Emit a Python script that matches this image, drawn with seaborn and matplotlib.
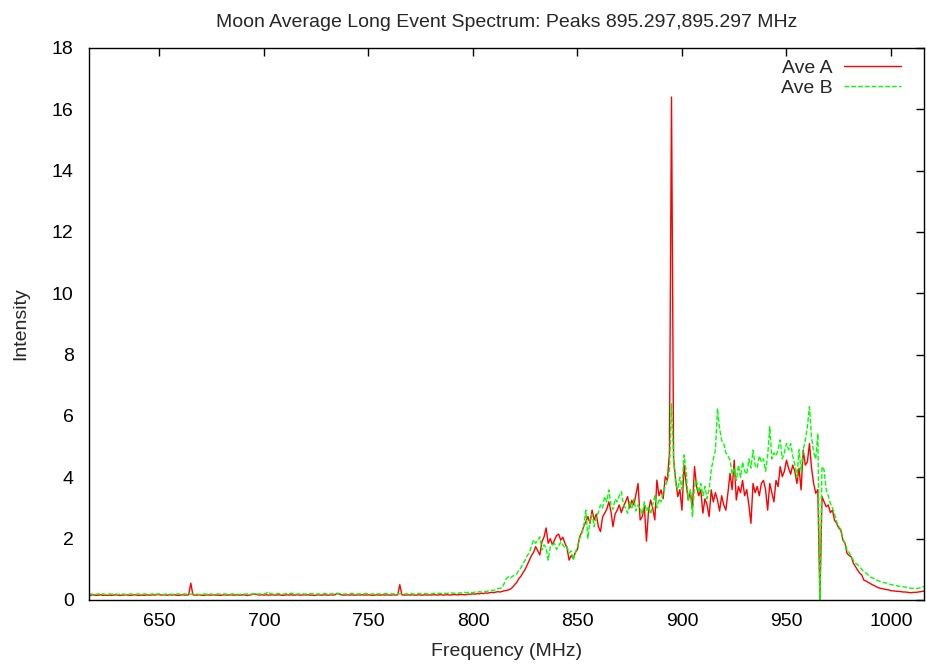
import numpy as np
import pandas as pd
import matplotlib
matplotlib.use("Agg")
import matplotlib.pyplot as plt
import seaborn as sns

# Frequency grid (MHz), 1 MHz spacing
freq = np.arange(616, 1017)

# --- Ave A (red), flat region 616..799 ---
ave_a_flat = [
    0.16, 0.15, 0.17, 0.16, 0.15, 0.16, 0.17, 0.15, 0.16, 0.15,
    0.16, 0.15, 0.16, 0.17, 0.16, 0.15, 0.16, 0.16, 0.17, 0.16,
    0.15, 0.16, 0.17, 0.16, 0.15, 0.16, 0.16, 0.15, 0.17, 0.16,
    0.16, 0.17, 0.16, 0.18, 0.17, 0.16, 0.17, 0.16, 0.16, 0.17,
    0.16, 0.17, 0.16, 0.15, 0.16, 0.17, 0.16, 0.16, 0.17, 0.55,
    0.17, 0.16, 0.16, 0.17, 0.16, 0.15, 0.16, 0.17, 0.16, 0.16,
    0.17, 0.16, 0.16, 0.15, 0.16, 0.17, 0.16, 0.16, 0.17, 0.16,
    0.16, 0.17, 0.16, 0.16, 0.17, 0.16, 0.15, 0.16, 0.17, 0.20,
    0.19, 0.17, 0.16, 0.17, 0.16, 0.17, 0.16, 0.16, 0.17, 0.16,
    0.16, 0.17, 0.16, 0.15, 0.16, 0.17, 0.16, 0.17, 0.16, 0.16,
    0.17, 0.16, 0.16, 0.17, 0.16, 0.17, 0.16, 0.16, 0.15, 0.16,
    0.17, 0.16, 0.16, 0.17, 0.16, 0.16, 0.17, 0.16, 0.17, 0.22,
    0.19, 0.17, 0.16, 0.16, 0.17, 0.16, 0.17, 0.16, 0.16, 0.17,
    0.16, 0.17, 0.16, 0.16, 0.17, 0.16, 0.15, 0.16, 0.17, 0.16,
    0.16, 0.17, 0.16, 0.17, 0.16, 0.16, 0.17, 0.16, 0.17, 0.50,
    0.17, 0.16, 0.16, 0.17, 0.16, 0.17, 0.16, 0.16, 0.17, 0.16,
    0.16, 0.17, 0.16, 0.17, 0.16, 0.17, 0.17, 0.16, 0.17, 0.17,
    0.16, 0.17, 0.17, 0.16, 0.17, 0.18, 0.17, 0.17, 0.18, 0.18,
    0.17, 0.18, 0.19, 0.19,
]

# --- Ave A (red), band 800..1016 ---
ave_a_band = [
    0.20, 0.19, 0.21, 0.20, 0.22, 0.21, 0.23, 0.22, 0.24, 0.25,
    0.24, 0.26, 0.27, 0.26, 0.28, 0.30, 0.31, 0.33, 0.36, 0.42,
    0.50, 0.58, 0.70, 0.78, 0.90, 1.00, 1.15, 1.30, 1.45, 1.55,
    1.74, 1.60, 1.47, 1.90, 2.05, 2.35, 1.85, 2.00, 1.80, 1.95,
    2.10, 2.15, 1.95, 2.05, 1.85, 1.70, 1.30, 1.45, 1.35, 1.55,
    1.65, 2.05, 2.20, 2.40, 2.55, 2.72, 2.50, 2.93, 2.61, 2.80,
    2.40, 2.23, 2.70, 2.83, 2.95, 3.20, 2.90, 2.39, 2.80, 2.93,
    3.10, 2.85, 3.05, 3.20, 3.37, 3.00, 3.25, 3.10, 3.45, 3.80,
    2.61, 2.72, 3.05, 1.92, 2.90, 3.26, 3.00, 2.61, 3.91, 3.40,
    3.59, 3.30, 4.02, 3.90, 4.78, 16.4, 4.60, 3.90, 3.37, 3.60,
    2.93, 4.40, 3.80, 3.26, 3.50, 3.00, 4.35, 3.70, 3.40, 3.59,
    2.83, 3.30, 3.10, 2.72, 3.59, 3.20, 3.50, 3.26, 2.90, 3.40,
    3.10, 2.93, 3.50, 4.13, 3.60, 4.56, 3.26, 3.70, 3.50, 3.90,
    3.40, 3.60, 3.10, 2.50, 3.80, 3.50, 3.70, 3.40, 3.80, 3.90,
    3.60, 2.93, 3.80, 3.50, 3.20, 3.90, 3.70, 4.35, 4.02, 4.20,
    4.56, 4.30, 4.10, 4.40, 4.20, 3.80, 4.30, 3.59, 4.89, 4.40,
    4.50, 5.10, 4.30, 3.80, 3.48, 3.60, 0.00, 3.37, 3.20, 3.04,
    3.10, 2.85, 2.93, 2.60, 2.50, 2.35, 2.28, 1.95, 1.85, 1.52,
    1.45, 1.41, 1.20, 1.09, 0.98, 0.88, 0.82, 0.65, 0.62, 0.58,
    0.54, 0.50, 0.47, 0.43, 0.40, 0.38, 0.37, 0.35, 0.34, 0.33,
    0.30, 0.30, 0.29, 0.28, 0.28, 0.27, 0.26, 0.26, 0.25, 0.24,
    0.24, 0.25, 0.25, 0.26, 0.27, 0.28, 0.30,
]

# --- Ave B (green), flat region 616..799 ---
ave_b_flat = [
    0.19, 0.20, 0.19, 0.18, 0.19, 0.20, 0.19, 0.20, 0.18, 0.19,
    0.20, 0.19, 0.19, 0.20, 0.18, 0.19, 0.20, 0.19, 0.18, 0.19,
    0.20, 0.19, 0.18, 0.19, 0.20, 0.19, 0.19, 0.20, 0.19, 0.18,
    0.19, 0.20, 0.19, 0.19, 0.20, 0.19, 0.18, 0.19, 0.20, 0.19,
    0.19, 0.18, 0.19, 0.20, 0.19, 0.19, 0.20, 0.19, 0.18, 0.19,
    0.20, 0.19, 0.19, 0.18, 0.19, 0.20, 0.19, 0.19, 0.20, 0.19,
    0.18, 0.19, 0.20, 0.19, 0.19, 0.20, 0.19, 0.18, 0.19, 0.20,
    0.19, 0.19, 0.18, 0.19, 0.20, 0.19, 0.20, 0.19, 0.19, 0.21,
    0.20, 0.19, 0.20, 0.19, 0.20, 0.21, 0.27, 0.21, 0.20, 0.19,
    0.20, 0.21, 0.20, 0.19, 0.20, 0.21, 0.20, 0.22, 0.21, 0.20,
    0.19, 0.20, 0.21, 0.20, 0.19, 0.20, 0.21, 0.20, 0.20, 0.19,
    0.20, 0.19, 0.20, 0.21, 0.20, 0.19, 0.20, 0.20, 0.19, 0.20,
    0.21, 0.20, 0.19, 0.20, 0.19, 0.20, 0.21, 0.20, 0.19, 0.20,
    0.20, 0.19, 0.20, 0.21, 0.20, 0.19, 0.20, 0.19, 0.20, 0.20,
    0.19, 0.20, 0.21, 0.20, 0.19, 0.20, 0.20, 0.19, 0.20, 0.21,
    0.20, 0.19, 0.20, 0.20, 0.21, 0.20, 0.19, 0.20, 0.21, 0.20,
    0.20, 0.21, 0.20, 0.21, 0.20, 0.21, 0.22, 0.21, 0.22, 0.21,
    0.22, 0.21, 0.22, 0.22, 0.23, 0.22, 0.23, 0.22, 0.24, 0.23,
    0.25, 0.24, 0.25, 0.25,
]

# --- Ave B (green), band 800..1016 ---
ave_b_band = [
    0.24, 0.26, 0.25, 0.27, 0.26, 0.28, 0.27, 0.29, 0.30, 0.32,
    0.31, 0.35, 0.37, 0.38, 0.40, 0.55, 0.70, 0.76, 0.72, 0.78,
    0.80, 0.85, 0.98, 1.05, 1.20, 1.30, 1.45, 1.55, 1.75, 1.96,
    1.85, 1.95, 2.06, 1.63, 1.80, 1.70, 1.30, 1.74, 1.80, 1.85,
    1.65, 1.75, 1.90, 1.80, 1.70, 1.74, 1.53, 1.60, 1.30, 1.55,
    1.75, 2.00, 2.15, 2.40, 2.93, 2.01, 2.60, 2.80, 2.39, 2.70,
    2.85, 3.10, 3.00, 3.37, 3.20, 3.59, 3.10, 2.95, 3.30, 3.20,
    3.40, 3.53, 3.10, 3.00, 2.83, 3.20, 3.00, 3.30, 2.90, 3.10,
    3.00, 2.80, 3.20, 2.90, 3.05, 2.80, 3.10, 3.40, 3.00, 3.30,
    3.20, 3.50, 3.70, 3.90, 4.20, 6.40, 4.56, 3.80, 3.60, 4.00,
    3.60, 4.73, 4.20, 3.26, 3.60, 2.72, 3.70, 3.90, 3.50, 3.80,
    3.40, 3.70, 3.30, 3.60, 4.24, 4.60, 4.89, 6.25, 5.60, 5.20,
    5.10, 4.80, 4.70, 4.56, 4.10, 4.30, 3.90, 4.40, 4.00, 4.50,
    4.20, 4.10, 4.60, 4.30, 4.89, 4.40, 4.30, 4.70, 4.50, 4.60,
    4.20, 4.70, 5.65, 4.60, 4.80, 4.70, 4.90, 5.22, 4.60, 4.80,
    5.10, 4.90, 5.10, 4.70, 4.40, 4.00, 4.90, 4.20, 4.90, 5.20,
    5.65, 6.30, 5.30, 4.80, 4.60, 5.43, 0.00, 4.35, 4.24, 3.60,
    3.40, 3.15, 3.00, 2.80, 2.55, 2.40, 2.30, 2.00, 1.85, 1.63,
    1.55, 1.40, 1.30, 1.20, 1.15, 1.09, 1.00, 0.92, 0.88, 0.82,
    0.76, 0.72, 0.70, 0.65, 0.63, 0.60, 0.58, 0.56, 0.55, 0.53,
    0.50, 0.49, 0.48, 0.46, 0.45, 0.44, 0.43, 0.42, 0.40, 0.39,
    0.38, 0.38, 0.37, 0.38, 0.40, 0.42, 0.44,
]

ave_a = ave_a_flat + ave_a_band
ave_b = ave_b_flat + ave_b_band

x_ticks = [650, 700, 750, 800, 850, 900, 950, 1000]
y_ticks = [0, 2, 4, 6, 8, 10, 12, 14, 16, 18]

title = "Moon Average Long Event Spectrum: Peaks 895.297,895.297 MHz"

sns.set_style("white")
plt.rcParams['font.family'] = ['Liberation Sans', 'DejaVu Sans']

fig = plt.figure(figsize=(9.28, 6.68), dpi=100)
ax = fig.add_axes([89/928, 68/668, (924-89)/928, (600-48)/668])

df = pd.DataFrame({"freq": freq, "Ave A": ave_a, "Ave B": ave_b})

sns.lineplot(data=df, x="freq", y="Ave A", ax=ax, color="#ff0000",
             linewidth=1.0, label="Ave A")
sns.lineplot(data=df, x="freq", y="Ave B", ax=ax, color="#00ff00",
             linewidth=1.0, label="Ave B")
ax.lines[1].set_dashes((3.4, 1.5))

ax.set_xlim(616.3, 1015.8)
ax.set_ylim(0, 18)
ax.set_xticks(x_ticks)
ax.set_yticks(y_ticks)
ax.tick_params(direction="in", length=6, width=1, top=True, right=True,
               labelsize=14, colors="black")
ax.tick_params(axis="y", pad=11)
ax.tick_params(axis="x", pad=9)
for s in ax.spines.values():
    s.set_color("black")
    s.set_linewidth(1.0)

ax.set_xlabel("Frequency (MHz)", fontsize=14, labelpad=10)
ax.set_ylabel("Intensity", fontsize=14, labelpad=16)
ax.set_title(title, fontsize=14, pad=15)

leg = ax.legend(loc="upper right", bbox_to_anchor=(0.982, 0.993),
                frameon=False, markerfirst=False,
                fontsize=14, handlelength=2.94, handletextpad=0.57,
                labelspacing=0.1, borderaxespad=0.0, borderpad=0.4)
for h in leg.get_lines():
    h.set_linewidth(1.0)
leg.get_lines()[1].set_dashes((3.4, 1.5))

fig.savefig("out.png", dpi=100)
